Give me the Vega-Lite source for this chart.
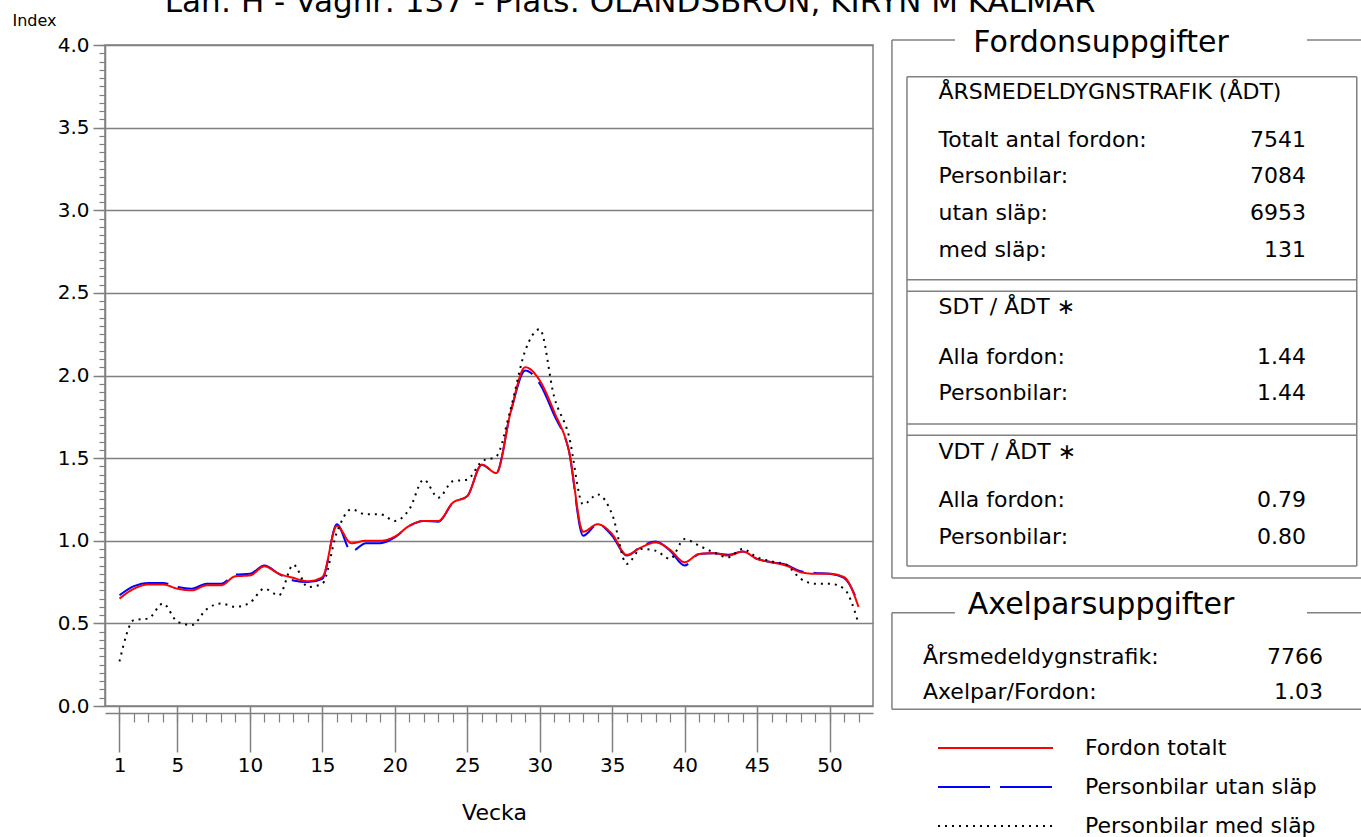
{
  "$schema": "https://vega.github.io/schema/vega-lite/v6.json",
  "width": 768,
  "height": 661,
  "autosize": {"type": "none"},
  "padding": {"left": 105, "top": 45, "right": 488, "bottom": 131},
  "background": "white",
  "config": {
    "font": "DejaVu Sans",
    "view": {"stroke": "#808080", "strokeWidth": 1.5},
    "axis": {"labelColor": "black", "titleColor": "black", "labelFont": "DejaVu Sans", "titleFont": "DejaVu Sans", "titleFontWeight": "normal", "tickColor": "#808080", "domainColor": "#808080", "gridColor": "#808080"},
    "text": {"font": "DejaVu Sans", "color": "black"}
  },
  "datasets": {
    "vecka": [
      {"Vecka": 1, "Fordon totalt": 0.65, "Personbilar utan släp": 0.67, "Personbilar med släp": 0.27},
      {"Vecka": 2, "Fordon totalt": 0.71, "Personbilar utan släp": 0.725, "Personbilar med släp": 0.52},
      {"Vecka": 3, "Fordon totalt": 0.735, "Personbilar utan släp": 0.745, "Personbilar med släp": 0.53},
      {"Vecka": 4, "Fordon totalt": 0.735, "Personbilar utan släp": 0.745, "Personbilar med släp": 0.62},
      {"Vecka": 5, "Fordon totalt": 0.71, "Personbilar utan släp": 0.72, "Personbilar med släp": 0.51},
      {"Vecka": 6, "Fordon totalt": 0.70, "Personbilar utan släp": 0.71, "Personbilar med släp": 0.49},
      {"Vecka": 7, "Fordon totalt": 0.73, "Personbilar utan släp": 0.74, "Personbilar med släp": 0.585},
      {"Vecka": 8, "Fordon totalt": 0.73, "Personbilar utan släp": 0.74, "Personbilar med släp": 0.62},
      {"Vecka": 9, "Fordon totalt": 0.785, "Personbilar utan släp": 0.795, "Personbilar med släp": 0.60},
      {"Vecka": 10, "Fordon totalt": 0.79, "Personbilar utan släp": 0.80, "Personbilar med släp": 0.625},
      {"Vecka": 11, "Fordon totalt": 0.845, "Personbilar utan släp": 0.85, "Personbilar med släp": 0.71},
      {"Vecka": 12, "Fordon totalt": 0.80, "Personbilar utan släp": 0.80, "Personbilar med släp": 0.67},
      {"Vecka": 13, "Fordon totalt": 0.775, "Personbilar utan släp": 0.76, "Personbilar med släp": 0.855},
      {"Vecka": 14, "Fordon totalt": 0.755, "Personbilar utan släp": 0.75, "Personbilar med släp": 0.72},
      {"Vecka": 15, "Fordon totalt": 0.78, "Personbilar utan släp": 0.77, "Personbilar med släp": 0.74},
      {"Vecka": 16, "Fordon totalt": 1.09, "Personbilar utan släp": 1.10, "Personbilar med släp": 1.05},
      {"Vecka": 17, "Fordon totalt": 0.985, "Personbilar utan släp": 0.935, "Personbilar med släp": 1.19},
      {"Vecka": 18, "Fordon totalt": 1.0, "Personbilar utan släp": 0.985, "Personbilar med släp": 1.16},
      {"Vecka": 19, "Fordon totalt": 1.0, "Personbilar utan släp": 0.985, "Personbilar med släp": 1.16},
      {"Vecka": 20, "Fordon totalt": 1.025, "Personbilar utan släp": 1.02, "Personbilar med släp": 1.12},
      {"Vecka": 21, "Fordon totalt": 1.09, "Personbilar utan släp": 1.09, "Personbilar med släp": 1.19},
      {"Vecka": 22, "Fordon totalt": 1.12, "Personbilar utan släp": 1.12, "Personbilar med släp": 1.37},
      {"Vecka": 23, "Fordon totalt": 1.12, "Personbilar utan släp": 1.115, "Personbilar med släp": 1.26},
      {"Vecka": 24, "Fordon totalt": 1.23, "Personbilar utan släp": 1.23, "Personbilar med släp": 1.36},
      {"Vecka": 25, "Fordon totalt": 1.27, "Personbilar utan släp": 1.27, "Personbilar med släp": 1.37},
      {"Vecka": 26, "Fordon totalt": 1.46, "Personbilar utan släp": 1.46, "Personbilar med släp": 1.48},
      {"Vecka": 27, "Fordon totalt": 1.41, "Personbilar utan släp": 1.41, "Personbilar med släp": 1.51},
      {"Vecka": 28, "Fordon totalt": 1.78, "Personbilar utan släp": 1.78, "Personbilar med släp": 1.80},
      {"Vecka": 29, "Fordon totalt": 2.05, "Personbilar utan släp": 2.03, "Personbilar med släp": 2.15},
      {"Vecka": 30, "Fordon totalt": 1.97, "Personbilar utan släp": 1.95, "Personbilar med släp": 2.28},
      {"Vecka": 31, "Fordon totalt": 1.78, "Personbilar utan släp": 1.76, "Personbilar med släp": 1.87},
      {"Vecka": 32, "Fordon totalt": 1.55, "Personbilar utan släp": 1.55, "Personbilar med släp": 1.64},
      {"Vecka": 33, "Fordon totalt": 1.055, "Personbilar utan släp": 1.03, "Personbilar med släp": 1.22},
      {"Vecka": 34, "Fordon totalt": 1.10, "Personbilar utan släp": 1.10, "Personbilar med släp": 1.28},
      {"Vecka": 35, "Fordon totalt": 1.04, "Personbilar utan släp": 1.03, "Personbilar med släp": 1.16},
      {"Vecka": 36, "Fordon totalt": 0.915, "Personbilar utan släp": 0.91, "Personbilar med släp": 0.86},
      {"Vecka": 37, "Fordon totalt": 0.96, "Personbilar utan släp": 0.965, "Personbilar med släp": 0.95},
      {"Vecka": 38, "Fordon totalt": 0.99, "Personbilar utan släp": 0.995, "Personbilar med släp": 0.94},
      {"Vecka": 39, "Fordon totalt": 0.945, "Personbilar utan släp": 0.94, "Personbilar med släp": 0.89},
      {"Vecka": 40, "Fordon totalt": 0.87, "Personbilar utan släp": 0.85, "Personbilar med släp": 1.01},
      {"Vecka": 41, "Fordon totalt": 0.92, "Personbilar utan släp": 0.92, "Personbilar med släp": 0.97},
      {"Vecka": 42, "Fordon totalt": 0.925, "Personbilar utan släp": 0.925, "Personbilar med släp": 0.93},
      {"Vecka": 43, "Fordon totalt": 0.91, "Personbilar utan släp": 0.915, "Personbilar med släp": 0.90},
      {"Vecka": 44, "Fordon totalt": 0.935, "Personbilar utan släp": 0.935, "Personbilar med släp": 0.95},
      {"Vecka": 45, "Fordon totalt": 0.89, "Personbilar utan släp": 0.89, "Personbilar med släp": 0.90},
      {"Vecka": 46, "Fordon totalt": 0.87, "Personbilar utan släp": 0.87, "Personbilar med släp": 0.875},
      {"Vecka": 47, "Fordon totalt": 0.85, "Personbilar utan släp": 0.855, "Personbilar med släp": 0.855},
      {"Vecka": 48, "Fordon totalt": 0.81, "Personbilar utan släp": 0.815, "Personbilar med släp": 0.77},
      {"Vecka": 49, "Fordon totalt": 0.80, "Personbilar utan släp": 0.805, "Personbilar med släp": 0.74},
      {"Vecka": 50, "Fordon totalt": 0.80, "Personbilar utan släp": 0.80, "Personbilar med släp": 0.74},
      {"Vecka": 51, "Fordon totalt": 0.78, "Personbilar utan släp": 0.775, "Personbilar med släp": 0.71},
      {"Vecka": 52, "Fordon totalt": 0.60, "Personbilar utan släp": 0.62, "Personbilar med släp": 0.50}
    ],
    "info": [
      {"box": "F", "kind": "title", "rad": 0.45, "label": "Fordonsuppgifter", "value": ""},
      {"box": "F", "kind": "rad", "rad": 7.76, "label": "ÅRSMEDELDYGNSTRAFIK (ÅDT)", "value": ""},
      {"box": "F", "kind": "rad", "rad": 14.93, "label": "Totalt antal fordon:", "value": "7541"},
      {"box": "F", "kind": "rad", "rad": 20.3, "label": "Personbilar:", "value": "7084"},
      {"box": "F", "kind": "rad", "rad": 25.82, "label": "utan släp:", "value": "6953"},
      {"box": "F", "kind": "rad", "rad": 31.34, "label": "med släp:", "value": "131"},
      {"box": "F", "kind": "rad", "rad": 39.85, "label": "SDT / ÅDT ∗", "value": ""},
      {"box": "F", "kind": "rad", "rad": 47.31, "label": "Alla fordon:", "value": "1.44"},
      {"box": "F", "kind": "rad", "rad": 52.69, "label": "Personbilar:", "value": "1.44"},
      {"box": "F", "kind": "rad", "rad": 61.49, "label": "VDT / ÅDT ∗", "value": ""},
      {"box": "F", "kind": "rad", "rad": 68.66, "label": "Alla fordon:", "value": "0.79"},
      {"box": "F", "kind": "rad", "rad": 74.18, "label": "Personbilar:", "value": "0.80"},
      {"box": "A", "kind": "title", "rad": 84.33, "label": "Axelparsuppgifter", "value": ""},
      {"box": "A", "kind": "rad", "rad": 92.09, "label": "Årsmedeldygnstrafik:", "value": "7766"},
      {"box": "A", "kind": "rad", "rad": 97.31, "label": "Axelpar/Fordon:", "value": "1.03"}
    ],
    "ramar": [
      {"x": 0.2, "x2": 0.2, "y": 0, "y2": 80.3},
      {"x": 0.2, "x2": 102, "y": 80.3, "y2": 80.3},
      {"x": 0.2, "x2": 13.6, "y": 0, "y2": 0},
      {"x": 88.5, "x2": 102, "y": 0, "y2": 0},
      {"x": 3.4, "x2": 99.1, "y": 5.5, "y2": 5.5},
      {"x": 3.4, "x2": 99.1, "y": 78.5, "y2": 78.5},
      {"x": 3.4, "x2": 3.4, "y": 5.5, "y2": 78.5},
      {"x": 99.1, "x2": 99.1, "y": 5.5, "y2": 78.5},
      {"x": 3.4, "x2": 99.1, "y": 35.8, "y2": 35.8},
      {"x": 3.4, "x2": 99.1, "y": 37.5, "y2": 37.5},
      {"x": 3.4, "x2": 99.1, "y": 57.3, "y2": 57.3},
      {"x": 3.4, "x2": 99.1, "y": 59.0, "y2": 59.0},
      {"x": 0.2, "x2": 0.2, "y": 85.5, "y2": 99.9},
      {"x": 0.2, "x2": 102, "y": 99.9, "y2": 99.9},
      {"x": 0.2, "x2": 13.6, "y": 85.5, "y2": 85.5},
      {"x": 88.5, "x2": 102, "y": 85.5, "y2": 85.5}
    ]
  },
  "layer": [
    {
      "data": {"name": "vecka"},
      "transform": [{"fold": ["Fordon totalt", "Personbilar utan släp", "Personbilar med släp"], "as": ["Serie", "Index"]}],
      "layer": [
        {
          "transform": [{"filter": "datum.Serie === 'Personbilar utan släp'"}],
          "mark": {"type": "line", "interpolate": "monotone", "strokeWidth": 2},
          "encoding": {
            "x": {"field": "Vecka", "type": "quantitative", "scale": {"domain": [0, 53], "nice": false, "zero": false},
              "axis": {"orient": "bottom", "values": [1, 5, 10, 15, 20, 25, 30, 35, 40, 45, 50], "tickSize": 46, "tickWidth": 1.5, "domain": false, "grid": false, "labelFontSize": 20, "labelPadding": 3, "labelFlush": false, "labelOverlap": false, "title": "Vecka", "titleFontSize": 22, "titleX": 389, "titleY": 106, "titleBaseline": "middle", "titleAlign": "center"}},
            "y": {"field": "Index", "type": "quantitative", "scale": {"domain": [0, 4], "nice": false},
              "axis": {"orient": "left", "values": [0, 0.5, 1, 1.5, 2, 2.5, 3, 3.5, 4], "format": ".1f", "tickSize": 12, "tickWidth": 1.5, "domain": true, "domainWidth": 1.5, "grid": true, "gridWidth": 1.5, "labelFontSize": 20, "labelPadding": 4, "labelFlush": false, "labelOverlap": false, "title": "Index", "titleAngle": 0, "titleFontSize": 16, "titleX": -93, "titleY": -25, "titleAlign": "left", "titleBaseline": "middle"}},
            "color": {"field": "Serie", "type": "nominal", "scale": {"domain": ["Fordon totalt", "Personbilar utan släp", "Personbilar med släp"], "range": ["#ff0000", "#0000ff", "#000000"]},
              "legend": {"title": null, "orient": "none", "legendX": 878, "legendY": 690.5, "padding": 0, "symbolType": "M-5,0H5", "symbolSize": 529, "symbolStrokeWidth": 2, "labelFontSize": 22, "labelFont": "DejaVu Sans", "labelColor": "black", "labelOffset": 77, "rowPadding": 15, "labelLimit": 400}},
            "strokeDash": {"field": "Serie", "type": "nominal", "scale": {"domain": ["Fordon totalt", "Personbilar utan släp", "Personbilar med släp"], "range": [[1, 0], [52, 10], [2, 5]]},
              "legend": {"title": null, "orient": "none", "legendX": 878, "legendY": 690.5, "padding": 0, "symbolType": "M-5,0H5", "symbolSize": 529, "symbolStrokeWidth": 2, "labelFontSize": 22, "labelFont": "DejaVu Sans", "labelColor": "black", "labelOffset": 77, "rowPadding": 15, "labelLimit": 400}}
          }
        },
        {
          "transform": [{"filter": "datum.Serie === 'Fordon totalt'"}],
          "mark": {"type": "line", "interpolate": "monotone", "strokeWidth": 2},
          "encoding": {
            "x": {"field": "Vecka", "type": "quantitative",
              "axis": {"orient": "bottom", "values": [1,2,3,4,5,6,7,8,9,10,11,12,13,14,15,16,17,18,19,20,21,22,23,24,25,26,27,28,29,30,31,32,33,34,35,36,37,38,39,40,41,42,43,44,45,46,47,48,49,50,51,52], "tickSize": 9, "tickWidth": 1.2, "offset": 7, "domain": true, "domainWidth": 1.5, "labels": false, "grid": false, "title": null}},
            "y": {"field": "Index", "type": "quantitative",
              "axis": {"orient": "left", "values": [0,0.05,0.1,0.15,0.2,0.25,0.3,0.35,0.4,0.45,0.5,0.55,0.6,0.65,0.7,0.75,0.8,0.85,0.9,0.95,1,1.05,1.1,1.15,1.2,1.25,1.3,1.35,1.4,1.45,1.5,1.55,1.6,1.65,1.7,1.75,1.8,1.85,1.9,1.95,2,2.05,2.1,2.15,2.2,2.25,2.3,2.35,2.4,2.45,2.5,2.55,2.6,2.65,2.7,2.75,2.8,2.85,2.9,2.95,3,3.05,3.1,3.15,3.2,3.25,3.3,3.35,3.4,3.45,3.5,3.55,3.6,3.65,3.7,3.75,3.8,3.85,3.9,3.95,4], "tickSize": 6, "tickWidth": 1.2, "labels": false, "grid": false, "domain": false, "title": null}},
            "color": {"field": "Serie", "type": "nominal"},
            "strokeDash": {"field": "Serie", "type": "nominal"}
          }
        },
        {
          "transform": [{"filter": "datum.Serie === 'Personbilar med släp'"}],
          "mark": {"type": "line", "interpolate": "monotone", "strokeWidth": 2},
          "encoding": {
            "x": {"field": "Vecka", "type": "quantitative", "axis": null},
            "y": {"field": "Index", "type": "quantitative", "axis": null},
            "color": {"field": "Serie", "type": "nominal"},
            "strokeDash": {"field": "Serie", "type": "nominal"}
          }
        }
      ],
      "resolve": {"axis": {"x": "independent", "y": "independent"}}
    },
    {
      "layer": [
        {
          "data": {"name": "ramar"},
          "mark": {"type": "rule", "color": "#808080", "strokeWidth": 1.5},
          "encoding": {
            "x": {"field": "x", "type": "quantitative", "scale": {"domain": [0, 100], "range": [786, 1256], "nice": false, "zero": false}, "axis": null},
            "x2": {"field": "x2"},
            "y": {"field": "y", "type": "quantitative", "scale": {"domain": [0, 100], "range": [-5, 665], "nice": false, "zero": false}, "axis": null},
            "y2": {"field": "y2"}
          }
        },
        {
          "data": {"values": [{"rubrik": "Län: H  -  Vägnr: 137  -  Plats: ÖLANDSBRON, KIRYN M KALMAR"}]},
          "mark": {"type": "text", "align": "center", "baseline": "alphabetic", "fontSize": 31},
          "encoding": {
            "x": {"datum": -55.5, "type": "quantitative", "axis": null},
            "y": {"datum": -4.18, "type": "quantitative", "axis": null},
            "text": {"field": "rubrik"}
          }
        },
        {
          "data": {"name": "info"},
          "transform": [{"filter": "datum.kind === 'title'"}],
          "mark": {"type": "text", "align": "center", "baseline": "middle", "fontSize": 30},
          "encoding": {
            "x": {"datum": 44.7, "type": "quantitative", "axis": null},
            "y": {"field": "rad", "type": "quantitative", "axis": null},
            "text": {"field": "label"}
          }
        },
        {
          "data": {"name": "info"},
          "transform": [{"filter": "datum.kind === 'rad' && datum.box === 'F'"}],
          "mark": {"type": "text", "align": "left", "baseline": "middle", "fontSize": 22},
          "encoding": {
            "x": {"datum": 10.1, "type": "quantitative", "axis": null},
            "y": {"field": "rad", "type": "quantitative", "axis": null},
            "text": {"field": "label"}
          }
        },
        {
          "data": {"name": "info"},
          "transform": [{"filter": "datum.kind === 'rad' && datum.box === 'F'"}],
          "mark": {"type": "text", "align": "right", "baseline": "middle", "fontSize": 22},
          "encoding": {
            "x": {"datum": 88.3, "type": "quantitative", "axis": null},
            "y": {"field": "rad", "type": "quantitative", "axis": null},
            "text": {"field": "value"}
          }
        },
        {
          "data": {"name": "info"},
          "transform": [{"filter": "datum.kind === 'rad' && datum.box === 'A'"}],
          "mark": {"type": "text", "align": "left", "baseline": "middle", "fontSize": 22},
          "encoding": {
            "x": {"datum": 6.8, "type": "quantitative", "axis": null},
            "y": {"field": "rad", "type": "quantitative", "axis": null},
            "text": {"field": "label"}
          }
        },
        {
          "data": {"name": "info"},
          "transform": [{"filter": "datum.kind === 'rad' && datum.box === 'A'"}],
          "mark": {"type": "text", "align": "right", "baseline": "middle", "fontSize": 22},
          "encoding": {
            "x": {"datum": 91.9, "type": "quantitative", "axis": null},
            "y": {"field": "rad", "type": "quantitative", "axis": null},
            "text": {"field": "value"}
          }
        }
      ]
    }
  ],
  "resolve": {"scale": {"x": "independent", "y": "independent"}}
}
